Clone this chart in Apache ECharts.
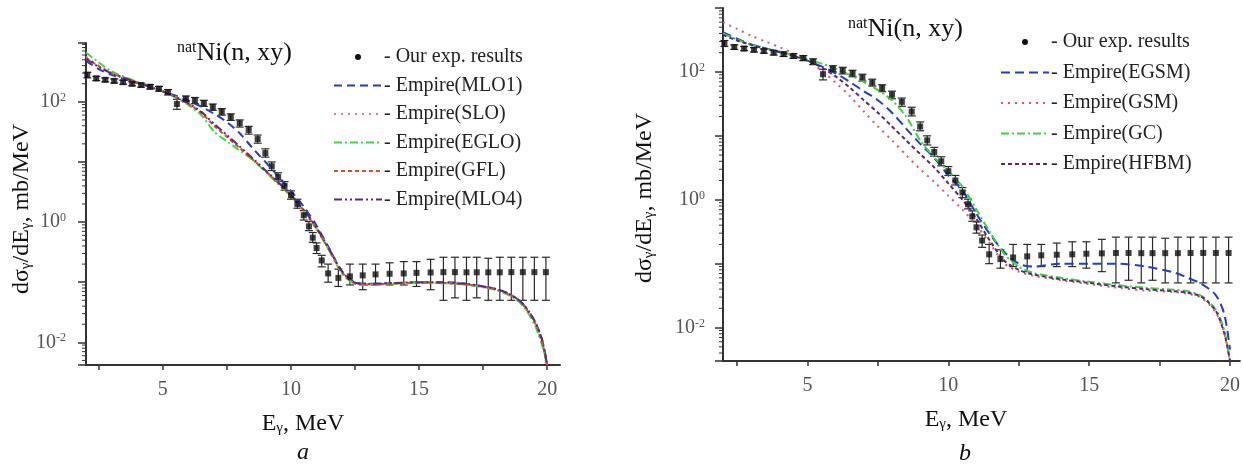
<!DOCTYPE html>
<html>
<head>
<meta charset="utf-8">
<script src="https://cdn.jsdelivr.net/npm/echarts@6.0.0/dist/echarts.min.js"></script>
<style>
html, body { margin: 0; padding: 0; background: #fff; }
#chart { width: 1243px; height: 465px; }
</style>
</head>
<body>
<div id="chart"></div>
<script>
// experimental points (same in both panels)
let exp_e = [2.05, 2.4, 2.75, 3.1, 3.45, 3.8, 4.15, 4.5, 4.85, 5.2, 5.55, 5.9, 6.25, 6.6, 6.95, 7.3, 7.65, 8.0, 8.35, 8.7,
    9.0, 9.25, 9.5, 9.75, 10.0, 10.25, 10.5, 10.7, 10.85, 11.0, 11.2, 11.45, 11.85, 12.3, 12.8, 13.3, 13.85, 14.4, 14.9,
    15.45, 15.95, 16.4, 16.85, 17.25, 17.7, 18.15, 18.6, 19.05, 19.5, 19.95]
let exp_v = [280, 245, 232, 222, 212, 200, 190, 178, 165, 145, 92, 112, 105, 95, 82, 68, 56, 44, 34, 24,
    14, 8.5, 5.6, 4.0, 2.8, 2.0, 1.3, 0.85, 0.55, 0.37, 0.23, 0.14, 0.118, 0.125, 0.13, 0.135, 0.138, 0.14, 0.143,
    0.145, 0.147, 0.147, 0.146, 0.146, 0.146, 0.146, 0.147, 0.147, 0.147, 0.147]
let exp_lo = [250, 225, 215, 205, 196, 184, 175, 163, 150, 130, 75, 100, 93, 84, 72, 60, 49, 38, 29, 20.5,
    12, 7.2, 4.8, 3.4, 2.4, 1.7, 1.08, 0.72, 0.46, 0.3, 0.18, 0.1, 0.085, 0.09, 0.075, 0.09, 0.09, 0.09, 0.085,
    0.075, 0.05, 0.055, 0.05, 0.055, 0.05, 0.05, 0.05, 0.05, 0.05, 0.05]
let exp_hi = [310, 265, 250, 240, 228, 216, 205, 193, 180, 160, 110, 125, 118, 106, 92, 77, 63, 50, 39, 28,
    16.5, 10, 6.6, 4.7, 3.3, 2.4, 1.55, 1.02, 0.67, 0.45, 0.28, 0.2, 0.165, 0.2, 0.2, 0.2, 0.21, 0.22, 0.22,
    0.24, 0.26, 0.26, 0.26, 0.26, 0.25, 0.26, 0.26, 0.26, 0.26, 0.26]

// model curves, energies shared by all curves
let curve_e = [2.0, 2.5, 3.0, 3.5, 4.0, 4.5, 5.0, 5.5, 6.0, 6.5, 7.0, 7.5, 8.0, 8.5, 9.0, 9.5, 10.0, 10.5, 11.0, 11.5,
    12.0, 12.5, 13.0, 14.0, 15.0, 16.0, 17.0, 18.0, 18.5, 19.0, 19.5, 19.8, 20.0]

// panel a
let mlo1 = [480, 350, 280, 238, 205, 176, 150, 126, 105, 83, 63, 46, 30, 17, 10, 5.8, 3.3, 1.8, 0.87, 0.36,
    0.15, 0.1, 0.094, 0.096, 0.1, 0.1, 0.092, 0.077, 0.064, 0.046, 0.023, 0.011, 0.0042]
let slo = [560, 400, 305, 252, 212, 180, 150, 120, 93, 66, 40, 27, 17.5, 11.2, 7.0, 4.4, 2.7, 1.5, 0.76, 0.33,
    0.14, 0.095, 0.092, 0.095, 0.098, 0.097, 0.09, 0.075, 0.062, 0.044, 0.021, 0.0095, 0.004]
let eglo = [660, 450, 320, 258, 215, 182, 150, 118, 88, 60, 32, 22, 15.5, 10.8, 6.9, 4.3, 2.7, 1.5, 0.77, 0.33,
    0.14, 0.094, 0.09, 0.094, 0.097, 0.096, 0.089, 0.074, 0.061, 0.043, 0.02, 0.009, 0.004]
let gfl = [540, 390, 300, 250, 210, 178, 148, 119, 92, 65, 40, 26, 17, 11, 7.1, 4.5, 2.75, 1.55, 0.78, 0.34,
    0.145, 0.096, 0.092, 0.095, 0.098, 0.097, 0.09, 0.076, 0.063, 0.045, 0.022, 0.01, 0.0042]
let mlo4 = [520, 380, 295, 248, 210, 178, 148, 120, 94, 68, 43, 28, 18, 11.5, 7.3, 4.6, 2.8, 1.6, 0.8, 0.35,
    0.15, 0.098, 0.094, 0.097, 0.1, 0.099, 0.092, 0.077, 0.064, 0.046, 0.023, 0.011, 0.0042]

// panel b
let egsm = [420, 330, 270, 235, 205, 180, 150, 122, 95, 70, 50, 36, 23, 13, 7.5, 4.5, 2.4, 1.4, 0.6, 0.28,
    0.15, 0.1, 0.09, 0.1, 0.1, 0.1, 0.09, 0.073, 0.06, 0.048, 0.032, 0.016, 0.0045]
let gsm = [600, 470, 370, 300, 245, 195, 150, 105, 68, 42, 24, 14, 8.5, 5, 3.0, 1.9, 1.15, 0.7, 0.4, 0.2,
    0.1, 0.075, 0.065, 0.055, 0.048, 0.042, 0.038, 0.036, 0.034, 0.029, 0.017, 0.008, 0.003]
let gc = [400, 320, 268, 235, 208, 182, 158, 135, 112, 90, 70, 52, 36, 20, 8.5, 4.6, 2.8, 1.6, 0.7, 0.3,
    0.14, 0.09, 0.072, 0.06, 0.052, 0.046, 0.042, 0.039, 0.037, 0.031, 0.019, 0.009, 0.003]
let hfbm = [380, 310, 265, 232, 205, 178, 150, 118, 85, 57, 36, 23, 14, 8.5, 5.2, 3.2, 1.8, 1.0, 0.5, 0.22,
    0.11, 0.08, 0.068, 0.057, 0.05, 0.044, 0.04, 0.037, 0.035, 0.03, 0.018, 0.008, 0.003]

// axis ticks
let x_ticks = [2.5, 5, 7.5, 10, 12.5, 15, 17.5, 20]
let x_labels = [5, 10, 15, 20]
let y_minor = [0.002, 0.003, 0.004, 0.005, 0.006, 0.007, 0.008, 0.009,
    0.02, 0.03, 0.04, 0.05, 0.06, 0.07, 0.08, 0.09,
    0.2, 0.3, 0.4, 0.5, 0.6, 0.7, 0.8, 0.9,
    2, 3, 4, 5, 6, 7, 8, 9,
    20, 30, 40, 50, 60, 70, 80, 90,
    200, 300, 400, 500, 600, 700, 800, 900]

const FONT = 'Liberation Serif'
const pairs = (xs, ys) => xs.map((x, i) => [x, ys[i]])

function errBars(params, api) {
    const x = api.value(0)
    const lo = api.coord([x, api.value(1)])
    const hi = api.coord([x, api.value(2)])
    const st = { stroke: '#2a2a2a', lineWidth: 1.2 }
    return {
        type: 'group', children: [
            { type: 'line', shape: { x1: lo[0], y1: lo[1], x2: hi[0], y2: hi[1] }, style: st },
            { type: 'line', shape: { x1: lo[0] - 4, y1: lo[1], x2: lo[0] + 4, y2: lo[1] }, style: st },
            { type: 'line', shape: { x1: hi[0] - 4, y1: hi[1], x2: hi[0] + 4, y2: hi[1] }, style: st }
        ]
    }
}

function minorTicks(params, api) {
    const p = api.coord([api.value(0), api.value(1)])
    return { type: 'line', shape: { x1: p[0] - 4, y1: p[1], x2: p[0], y2: p[1] }, style: { stroke: '#333', lineWidth: 1 } }
}

function logLabel(v) {
    const e = Math.log10(v)
    const r = Math.round(e)
    if (Math.abs(e - r) > 1e-6 || r % 2 !== 0 || r > 2) return ''
    return '10{e|' + r + '}'
}

function xAxisOf(grid, max) {
    return {
        type: 'value', gridIndex: grid, min: 2, max: max,
        axisLine: { lineStyle: { color: '#333', width: 2 } },
        axisTick: { customValues: x_ticks, length: 5, lineStyle: { color: '#333', width: 1.5 } },
        axisLabel: { customValues: x_labels, margin: 15, color: '#555', fontFamily: FONT, fontSize: 20 },
        splitLine: { show: false }
    }
}

function yAxisOf(grid, min, max, margin) {
    return {
        type: 'log', logBase: 10, gridIndex: grid, min: min, max: max,
        axisLine: { show: true, lineStyle: { color: '#333', width: 2 } },
        axisTick: { length: 8, lineStyle: { color: '#333', width: 1.5 } },
        axisLabel: {
            margin: margin, color: '#555', fontFamily: FONT, fontSize: 20, formatter: logLabel,
            rich: { e: { fontSize: 12, fontFamily: FONT, color: '#555', verticalAlign: 'top', lineHeight: 12 } }
        },
        splitLine: { show: false }, minorTick: { show: false }
    }
}

function lineSeries(name, data, xi, yi, color, dash) {
    return {
        name: name, type: 'line', xAxisIndex: xi, yAxisIndex: yi, data: pairs(curve_e, data),
        symbol: 'none', smooth: 0.3, clip: true,
        lineStyle: { color: color, width: 2, type: dash }, itemStyle: { color: color }, z: 3
    }
}

function expSeries(xi, yi) {
    return [{
        name: 'Our exp. results', type: 'scatter', xAxisIndex: xi, yAxisIndex: yi, data: pairs(exp_e, exp_v),
        symbol: 'rect', symbolSize: 6, itemStyle: { color: '#111' }, z: 4
    }, {
        name: 'err', type: 'custom', xAxisIndex: xi, yAxisIndex: yi, renderItem: errBars,
        data: exp_e.map((e, i) => [e, exp_lo[i], exp_hi[i]]), encode: { x: 0, y: [1, 2] }, z: 2
    }]
}

function minorSeries(xi, yi, lo, hi) {
    return {
        name: 'minor', type: 'custom', xAxisIndex: xi, yAxisIndex: yi, renderItem: minorTicks, clip: false,
        data: y_minor.filter(v => v > lo && v < hi).map(v => [2, v]), encode: { x: 0, y: 1 }, silent: true
    }
}

function legendOf(left, top, gap, names) {
    return {
        orient: 'vertical', left: left, top: top, itemGap: gap, itemWidth: 48, itemHeight: 6,
        formatter: '- {name}', selectedMode: false,
        itemStyle: { opacity: 0 },
        textStyle: { fontFamily: FONT, fontSize: 20, color: '#222', lineHeight: 22, padding: [0, 0, 0, -3] },
        data: [{ name: 'Our exp. results', icon: 'circle', itemStyle: { opacity: 1, color: '#111' } }].concat(names)
    }
}

function textEl(x, y, text, size, rotate, italic) {
    return {
        type: 'text', x: x, y: y, rotation: rotate || 0,
        style: {
            text: text, fontFamily: FONT, fontSize: size, fontStyle: italic ? 'italic' : 'normal', fill: '#111',
            align: 'center', verticalAlign: 'middle',
            rich: {
                g: { fontSize: 15, fontFamily: FONT, verticalAlign: 'bottom', lineHeight: 18, fill: '#111' }
            }
        }
    }
}

const titleRich = { s: { fontSize: 16, fontFamily: FONT, color: '#111', verticalAlign: 'top', lineHeight: 16 } }

let option = {
    backgroundColor: '#fff',
    animation: false,
    title: [
        { text: '{s|nat}Ni(n, xy)', left: 177, top: 40, padding: 0,
          textStyle: { fontFamily: FONT, fontSize: 26, fontWeight: 'normal', color: '#111', rich: titleRich } },
        { text: '{s|nat}Ni(n, xy)', left: 848, top: 16, padding: 0,
          textStyle: { fontFamily: FONT, fontSize: 26, fontWeight: 'normal', color: '#111', rich: titleRich } }
    ],
    grid: [
        { left: 86, top: 43, width: 474, height: 322 },
        { left: 723, top: 8, width: 519, height: 353 }
    ],
    xAxis: [xAxisOf(0, 20.5), xAxisOf(1, 20.35)],
    yAxis: [yAxisOf(0, 0.0042, 950, 20), yAxisOf(1, 0.003, 1000, 18)],
    legend: [
        legendOf(328, 41, 6.5, ['Empire(MLO1)', 'Empire(SLO)', 'Empire(EGLO)', 'Empire(GFL)', 'Empire(MLO4)']),
        legendOf(995, 26, 8.5, ['Empire(EGSM)', 'Empire(GSM)', 'Empire(GC)', 'Empire(HFBM)'])
    ],
    graphic: [
        textEl(22, 209, 'dσ{g|γ}/dE{g|γ}, mb/MeV', 24, Math.PI / 2),
        textEl(645, 198, 'dσ{g|γ}/dE{g|γ}, mb/MeV', 24, Math.PI / 2),
        textEl(303, 424, 'E{g|γ}, MeV', 24),
        textEl(966, 420, 'E{g|γ}, MeV', 24),
        textEl(303, 453, 'a', 24, 0, true),
        textEl(965, 454, 'b', 24, 0, true)
    ],
    series: [].concat(
        expSeries(0, 0),
        [
            lineSeries('Empire(MLO1)', mlo1, 0, 0, '#2b3bc4', [8, 5]),
            lineSeries('Empire(SLO)', slo, 0, 0, '#e07a8c', [2, 5]),
            lineSeries('Empire(EGLO)', eglo, 0, 0, '#44d844', [8, 3, 2, 3]),
            lineSeries('Empire(GFL)', gfl, 0, 0, '#d0502c', [4, 3]),
            lineSeries('Empire(MLO4)', mlo4, 0, 0, '#5c2c74', [8, 3, 2, 3, 2, 3]),
            minorSeries(0, 0, 0.0042, 950)
        ],
        expSeries(1, 1),
        [
            lineSeries('Empire(EGSM)', egsm, 1, 1, '#2040c8', [9, 5]),
            lineSeries('Empire(GSM)', gsm, 1, 1, '#e85068', [2, 5]),
            lineSeries('Empire(GC)', gc, 1, 1, '#40d040', [8, 3, 2, 3]),
            lineSeries('Empire(HFBM)', hfbm, 1, 1, '#5a2a70', [4, 3]),
            minorSeries(1, 1, 0.003, 1000)
        ]
    )
}

const dom = document.getElementById('chart')
const myChart = echarts.init(dom)
myChart.setOption(option, true)
</script>
</body>
</html>
